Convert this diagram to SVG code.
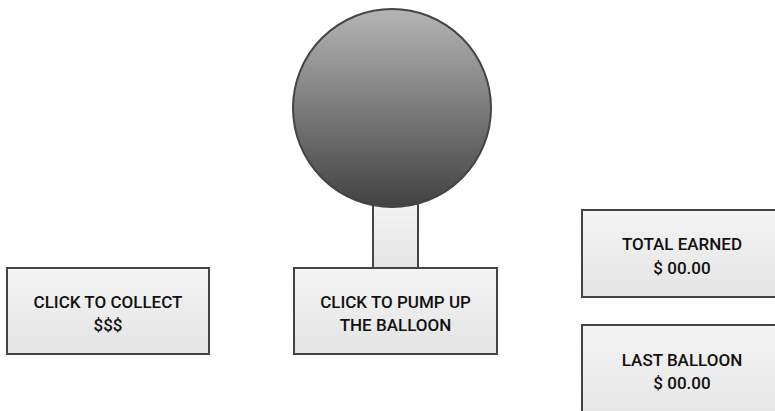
<svg xmlns="http://www.w3.org/2000/svg" width="775" height="411" viewBox="0 0 775 411">
<defs>
<linearGradient id="boxg" x1="0" y1="0" x2="0" y2="1"><stop offset="0" stop-color="#f4f4f4"/><stop offset="1" stop-color="#e4e4e4"/></linearGradient>
<linearGradient id="ballg" x1="0" y1="0" x2="0" y2="1"><stop offset="0" stop-color="#b5b5b5"/><stop offset="1" stop-color="#424242"/></linearGradient>
<style>
.box{fill:url(#boxg);stroke:#444;stroke-width:2}
.t{font-family:Roboto,"Liberation Sans",sans-serif;font-size:17px;font-weight:500;fill:#111;text-anchor:middle}
</style>
</defs>
<rect width="775" height="411" fill="#fff"/>
<g id="balloon">
<rect class="box" x="373" y="200" width="45" height="68"/>
<circle cx="392" cy="108" r="99" fill="url(#ballg)" stroke="#444" stroke-width="2"/>
</g>
<g id="pump">
<rect class="box" x="294" y="268" width="203" height="86"/>
<text class="t" x="395.5" y="308">CLICK TO PUMP UP</text>
<text class="t" x="395.5" y="331">THE BALLOON</text>
</g>
<g id="collect">
<rect class="box" x="7" y="268" width="202" height="86"/>
<text class="t" x="108" y="308">CLICK TO COLLECT</text>
<text class="t" x="108" y="331">$$$</text>
</g>
<g id="total">
<rect class="box" x="582" y="210" width="210" height="87"/>
<text class="t" x="682" y="250">TOTAL EARNED</text>
<text class="t" x="682" y="274">$ 00.00</text>
</g>
<g id="last">
<rect class="box" x="582" y="325" width="210" height="100"/>
<text class="t" x="682" y="366">LAST BALLOON</text>
<text class="t" x="682" y="389">$ 00.00</text>
</g>
<g id="connectors"/>
</svg>
